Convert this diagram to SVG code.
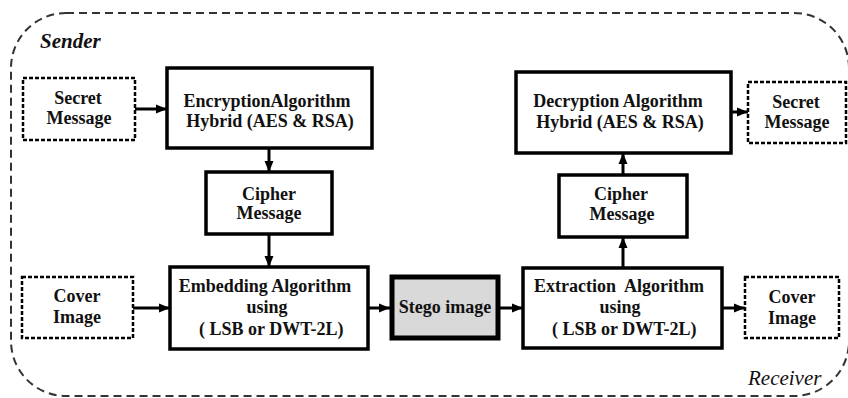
<svg xmlns="http://www.w3.org/2000/svg" width="848" height="398" viewBox="0 0 848 398">
<style>
text{font-family:'Liberation Serif','Times New Roman',Times,serif}
.t{font-weight:bold;font-size:18px;fill:#111;text-anchor:middle}
.box{fill:#fff;stroke:#000;stroke-width:3.5}
.dbox{fill:#fff;stroke:#000;stroke-width:2.5;stroke-dasharray:4 2}
.c{stroke:#000;stroke-width:3;fill:none;marker-end:url(#ah)}
.lbl{font-style:italic;font-size:21px;fill:#111}
</style>
<defs>
<marker id="ah" markerUnits="userSpaceOnUse" markerWidth="12" markerHeight="12" viewBox="0 0 12 12" refX="11" refY="6" orient="auto">
<path d="M0,1.5 L11,6 L0,10.5 Z" fill="#000"/>
</marker>
</defs>
<rect id="boundary" x="11" y="13" width="838" height="383" rx="55" ry="55" fill="none" stroke="#333" stroke-width="2" stroke-dasharray="8 5"/>
<text class="lbl" x="40" y="48" font-weight="bold">Sender</text>
<text class="lbl" x="748" y="385">Receiver</text>

<g id="connectors">
<line class="c" x1="135" y1="109" x2="167" y2="109"/>
<line class="c" x1="269" y1="148" x2="269" y2="172"/>
<line class="c" x1="269" y1="234" x2="269" y2="267"/>
<line class="c" x1="133" y1="308" x2="170" y2="308"/>
<line class="c" x1="368" y1="308" x2="390" y2="308"/>
<line class="c" x1="500" y1="308" x2="523" y2="308"/>
<line class="c" x1="722" y1="308" x2="745" y2="308"/>
<line class="c" x1="623" y1="268" x2="623" y2="237"/>
<line class="c" x1="623" y1="175" x2="623" y2="153"/>
<line class="c" x1="731" y1="112" x2="748" y2="112"/>
</g>

<g id="secret-in">
<rect class="dbox" x="23" y="78" width="112" height="62"/>
<text class="t" x="78" y="104">Secret</text>
<text class="t" x="79" y="124">Message</text>
</g>
<g id="encryption">
<rect class="box" x="167" y="68" width="205" height="80"/>
<text class="t" x="267" y="107">EncryptionAlgorithm</text>
<text class="t" x="270" y="127">Hybrid (AES &amp; RSA)</text>
</g>
<g id="cipher-send">
<rect class="box" x="206" y="172" width="126" height="62"/>
<text class="t" x="269" y="200">Cipher</text>
<text class="t" x="269" y="219">Message</text>
</g>
<g id="cover-in">
<rect class="dbox" x="22" y="277" width="111" height="61"/>
<text class="t" x="77" y="302">Cover</text>
<text class="t" x="77" y="323">Image</text>
</g>
<g id="embedding">
<rect class="box" x="170" y="267" width="198" height="82"/>
<text class="t" x="265" y="292">Embedding Algorithm</text>
<text class="t" x="267" y="313">using</text>
<text class="t" x="269" y="335" xml:space="preserve"> ( LSB or DWT-2L)</text>
</g>
<g id="stego">
<rect x="392" y="277" width="106" height="61" fill="#d9d9d9" stroke="#000" stroke-width="5"/>
<text class="t" x="445" y="313">Stego image</text>
</g>
<g id="extraction">
<rect class="box" x="523" y="268" width="199" height="80"/>
<text class="t" x="619" y="292" xml:space="preserve">Extraction  Algorithm</text>
<text class="t" x="620" y="313">using</text>
<text class="t" x="622" y="335" xml:space="preserve"> ( LSB or DWT-2L)</text>
</g>
<g id="cover-out">
<rect class="dbox" x="745" y="277" width="94" height="61"/>
<text class="t" x="792" y="303">Cover</text>
<text class="t" x="792" y="324">Image</text>
</g>
<g id="cipher-recv">
<rect class="box" x="559" y="175" width="128" height="62"/>
<text class="t" x="621" y="200">Cipher</text>
<text class="t" x="622" y="220">Message</text>
</g>
<g id="decryption">
<rect class="box" x="516" y="72" width="215" height="81"/>
<text class="t" x="618" y="107">Decryption Algorithm</text>
<text class="t" x="620" y="128">Hybrid (AES &amp; RSA)</text>
</g>
<g id="secret-out">
<rect class="dbox" x="748" y="82" width="98" height="61"/>
<text class="t" x="796" y="108">Secret</text>
<text class="t" x="797" y="128">Message</text>
</g>
</svg>
